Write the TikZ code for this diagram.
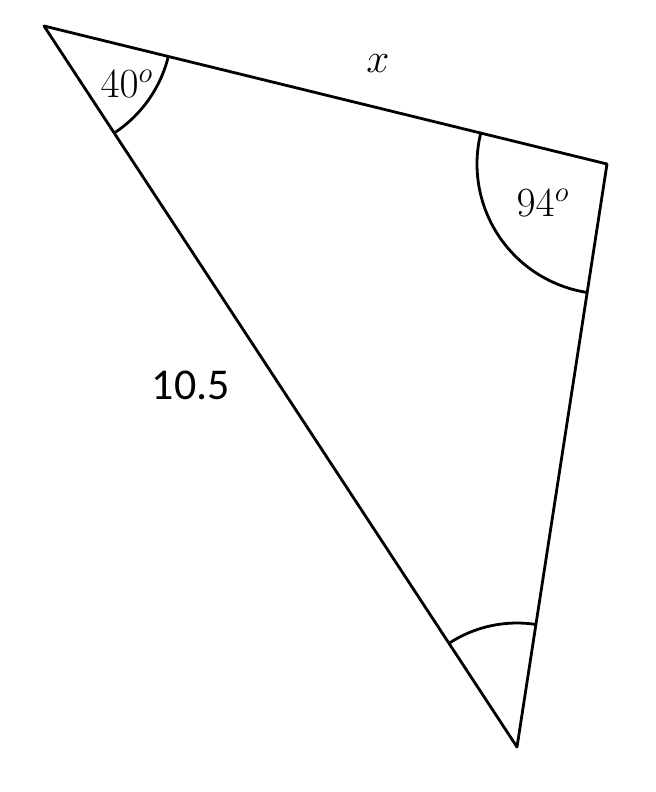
\documentclass[tikz,border=0pt]{standalone}
\usepackage{fontspec}
\newfontfamily\sidefont{Carlito}
\usetikzlibrary{angles,quotes}

\begin{document}
\begin{tikzpicture}[x=0.5pt, y=-0.5pt, line width=1.4pt, line join=round,
    every node/.style={font=\fontsize{22}{26}\selectfont}]

% --- frame ---------------------------------------------------------
\useasboundingbox (0,0) rectangle (656,792);

% --- vertices ------------------------------------------------------
\coordinate (A) at (44,26);
\coordinate (B) at (607,164);
\coordinate (C) at (517,747);

% --- triangle ------------------------------------------------------
\draw (A) -- (B) -- (C) -- cycle;

% --- angle arcs ----------------------------------------------------
\draw pic[draw, angle radius=64pt] {angle = C--A--B};
\draw pic[draw, angle radius=65pt] {angle = A--B--C};
\draw pic[draw, angle radius=62pt] {angle = B--C--A};

% --- labels --------------------------------------------------------
\node (angA) at (127,84)  {$40^{o}$};
\node (angB) at (543,203) {$94^{o}$};
\node (sideAB) at (378,64) {$x$};
\node[font=\sidefont\fontsize{22}{26}\selectfont] (sideAC) at (191,385) {10.5};

\end{tikzpicture}
\end{document}
